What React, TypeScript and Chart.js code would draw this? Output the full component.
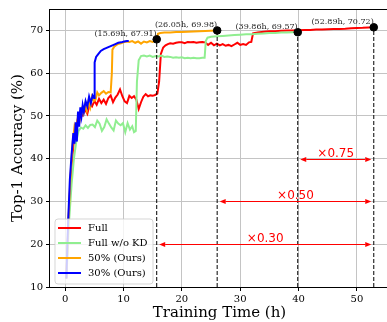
import React, { useEffect, useRef } from 'react';
import { Chart, registerables } from 'chart.js';

Chart.register(...registerables);

// ---- data (hours, top-1 accuracy %) ----
const fullTime = [0.2, 0.6, 1.0, 1.4, 1.8, 2.2, 2.6, 3.0, 3.4, 3.8, 4.2, 4.6, 5.0, 5.4, 5.8, 6.2, 6.6, 7.0, 7.4, 7.8, 8.2, 8.6, 9.0, 9.4, 9.8, 10.2, 10.6, 11.0, 11.4, 11.8, 12.2, 12.6, 13.0, 13.4, 13.8, 14.2, 14.6, 15.0, 15.4, 15.8, 16.1, 16.4, 16.8, 17.2, 17.6, 18.0, 18.5, 19.0, 19.5, 20.0, 20.5, 21.0, 21.5, 22.0, 22.5, 23.0, 23.5, 24.0, 24.5, 25.0, 25.5, 26.0, 26.5, 27.0, 27.5, 28.0, 28.5, 29.0, 29.5, 30.0, 30.5, 31.0, 31.5, 31.9, 32.2, 33.0, 34.0, 35.0, 36.0, 37.0, 38.0, 39.0, 40.0, 41.0, 42.0, 43.0, 44.0, 45.0, 46.0, 47.0, 48.0, 49.0, 50.0, 51.0, 52.0, 52.89];
const fullAcc = [12, 26, 37, 43, 47, 49.5, 51, 50.2, 51.5, 50.5, 52.8, 52.2, 53.5, 52.6, 54, 53, 53.8, 52.8, 54.2, 54.8, 53.2, 54.3, 55, 56.2, 54.6, 53.4, 53, 54.7, 54.2, 54.6, 53.8, 51.6, 53.2, 54.5, 55.1, 54.6, 54.8, 54.7, 54.9, 55.2, 58, 64.5, 66, 66.5, 66.8, 67, 66.9, 67.1, 67.2, 67.2, 67, 67.3, 67.2, 67.3, 67.1, 67.2, 67.3, 67.2, 66.6, 67.1, 66.5, 66.9, 66.5, 66.8, 66.4, 66.6, 66.3, 66.7, 67.1, 66.6, 66.8, 66.6, 67.2, 67.3, 69.3, 69.5, 69.7, 69.8, 69.8, 69.9, 70, 70, 70.05, 70.1, 70.1, 70.2, 70.2, 70.25, 70.3, 70.35, 70.4, 70.5, 70.55, 70.6, 70.7, 70.72];

const noKdTime = [0.2, 0.7, 1.1, 1.5, 1.9, 2.3, 2.7, 3.1, 3.5, 3.9, 4.3, 4.7, 5.1, 5.5, 5.9, 6.3, 6.7, 7.1, 7.5, 7.9, 8.3, 8.7, 9.1, 9.5, 9.9, 10.3, 10.7, 11.1, 11.5, 11.8, 12.1, 12.3, 12.6, 13.0, 13.5, 14.0, 14.5, 15.0, 15.5, 16.0, 16.5, 17.0, 17.5, 18.0, 18.5, 19.0, 19.5, 20.0, 20.5, 21.0, 21.5, 22.0, 22.5, 23.0, 23.5, 23.9, 24.1, 24.4, 25.0, 26.0, 27.0, 28.0, 29.0, 30.0, 31.0, 32.0, 33.0, 34.0, 35.0, 36.0, 37.0, 38.0, 39.0, 39.86];
const noKdAcc = [12, 26, 34, 40, 44, 46.5, 47.3, 47, 47.8, 47.2, 47.9, 48, 47.4, 48.9, 48.2, 46.5, 47.4, 49.2, 48.2, 47.3, 46.6, 48.9, 48.2, 47.8, 48.3, 46.2, 48.3, 46.8, 47.6, 46.2, 46.5, 58, 63, 64, 64.1, 63.9, 64.1, 63.8, 64, 63.9, 64.1, 63.8, 63.9, 63.8, 63.6, 63.7, 63.6, 63.7, 63.5, 63.6, 63.5, 63.6, 63.5, 63.5, 63.6, 63.6, 67.5, 68.3, 68.5, 68.6, 68.7, 68.8, 68.9, 69, 69.1, 69.1, 69.2, 69.3, 69.4, 69.4, 69.5, 69.5, 69.55, 69.57];

const half_Time = [0.2, 0.6, 1.0, 1.3, 1.6, 1.9, 2.2, 2.5, 2.8, 3.1, 3.4, 3.7, 4.0, 4.3, 4.6, 4.9, 5.2, 5.5, 5.8, 6.2, 6.6, 7.0, 7.4, 7.8, 8.0, 8.1, 8.4, 8.8, 9.2, 9.6, 10.0, 10.5, 11.0, 11.5, 12.0, 12.5, 13.0, 13.5, 14.0, 14.5, 15.0, 15.5, 15.69, 15.9, 16.3, 17.0, 18.0, 19.0, 20.0, 21.0, 22.0, 23.0, 24.0, 25.0, 26.05];
const half_Acc = [12, 27, 38, 44, 47.5, 46, 50, 49, 51.5, 50.5, 52.5, 51.2, 53.5, 52, 54.5, 53.5, 53.8, 55.5, 54.8, 55.4, 55.8, 55.2, 55.6, 55.5, 60, 65.5, 66.2, 66.6, 66.9, 67, 67.2, 67.4, 67.3, 67.5, 67.1, 67.4, 66.9, 67.4, 67.2, 67.5, 67.3, 67.6, 67.5, 69.2, 69.4, 69.5, 69.5, 69.6, 69.6, 69.7, 69.75, 69.8, 69.85, 69.9, 69.98];

const p30Time = [0.2, 0.5, 0.8, 1.1, 1.4, 1.6, 1.8, 2.0, 2.2, 2.4, 2.6, 2.8, 3.0, 3.2, 3.5, 3.8, 4.1, 4.4, 4.7, 4.95, 5.05, 5.3, 5.7, 6.1, 6.6, 7.1, 7.6, 8.1, 8.6, 9.1, 9.6, 10.1, 10.6, 10.9];
const p30Acc = [12, 25, 35, 41, 46, 43.5, 48.5, 44, 51, 47.5, 52, 50, 52.5, 51, 53.5, 52.2, 54.5, 53, 54.8, 54.2, 62.5, 63.8, 64.5, 65.2, 65.6, 65.9, 66.2, 66.5, 66.8, 67.1, 67.2, 67.4, 67.5, 67.5];

const seriesLabels = ['Full', 'Full w/o KD', '50% (Ours)', '30% (Ours)'];
const seriesColors = ['#ff0000', '#90ee90', '#ffa500', '#0000ff'];

const markerTime = [15.69, 26.05, 39.86, 52.89];
const markerAcc = [67.91, 69.98, 69.57, 70.72];
const markerText = ['(15.69h, 67.91)', '(26.05h, 69.98)', '(39.86h, 69.57)', '(52.89h, 70.72)'];

const speedupLabels = ['\u00d70.75', '\u00d70.50', '\u00d70.30'];
const speedupY = [40, 30, 20];
const speedupFrom = [39.86, 26.05, 15.69];
const speedupTo = [52.89, 52.89, 52.89];

const xTicks = [0, 10, 20, 30, 40, 50];
const yTicks = [10, 20, 30, 40, 50, 60, 70];

const toPts = (t: number[], v: number[]) => t.map((x, i) => ({ x, y: v[i] }));

const overlay = {
  id: 'overlay',
  afterDatasetsDraw(chart: any) {
    const { ctx, chartArea: a, scales } = chart;
    const x = scales.x;
    const y = scales.y;
    ctx.save();

    // marker annotations
    ctx.font = '8px "DejaVu Serif"';
    ctx.fillStyle = '#222222';
    ctx.textAlign = 'right';
    ctx.textBaseline = 'alphabetic';
    markerTime.forEach((t, i) => {
      ctx.fillText(markerText[i], x.getPixelForValue(t), y.getPixelForValue(markerAcc[i]) - 3.5);
    });

    // speed-up arrows
    ctx.strokeStyle = '#ff0000';
    ctx.fillStyle = '#ff0000';
    ctx.lineWidth = 1;
    speedupY.forEach((v, i) => {
      const yy = Math.round(y.getPixelForValue(v)) + 0.5;
      const x1 = x.getPixelForValue(speedupFrom[i]) + 2.5;
      const x2 = x.getPixelForValue(speedupTo[i]) - 2.5;
      const hl = 6, hw = 2.6;
      ctx.beginPath();
      ctx.moveTo(x1 + hl, yy);
      ctx.lineTo(x2 - hl, yy);
      ctx.stroke();
      ctx.beginPath();
      ctx.moveTo(x1, yy);
      ctx.lineTo(x1 + hl, yy - hw);
      ctx.lineTo(x1 + hl, yy + hw);
      ctx.closePath();
      ctx.fill();
      ctx.beginPath();
      ctx.moveTo(x2, yy);
      ctx.lineTo(x2 - hl, yy - hw);
      ctx.lineTo(x2 - hl, yy + hw);
      ctx.closePath();
      ctx.fill();
      ctx.font = '12px "DejaVu Sans"';
      ctx.textAlign = 'center';
      ctx.textBaseline = 'alphabetic';
      const mid = x.getPixelForValue((speedupFrom[i] + speedupTo[i]) / 2);
      ctx.fillText(speedupLabels[i], mid, yy - 2.5);
    });

    // axes frame
    ctx.strokeStyle = '#000000';
    ctx.lineWidth = 1;
    ctx.strokeRect(Math.round(a.left) - 0.5, Math.round(a.top) + 0.5, a.right - a.left, a.bottom - a.top);

    // legend
    const bx = a.left + 5;
    const by = a.bottom - 68;
    const bw = 98;
    const bh = 65;
    ctx.beginPath();
    const r = 3;
    ctx.moveTo(bx + r, by);
    ctx.lineTo(bx + bw - r, by);
    ctx.quadraticCurveTo(bx + bw, by, bx + bw, by + r);
    ctx.lineTo(bx + bw, by + bh - r);
    ctx.quadraticCurveTo(bx + bw, by + bh, bx + bw - r, by + bh);
    ctx.lineTo(bx + r, by + bh);
    ctx.quadraticCurveTo(bx, by + bh, bx, by + bh - r);
    ctx.lineTo(bx, by + r);
    ctx.quadraticCurveTo(bx, by, bx + r, by);
    ctx.closePath();
    ctx.fillStyle = 'rgba(255,255,255,0.8)';
    ctx.fill();
    ctx.strokeStyle = 'rgba(204,204,204,0.8)';
    ctx.stroke();
    ctx.font = '10px "DejaVu Serif"';
    ctx.textAlign = 'left';
    ctx.textBaseline = 'middle';
    seriesLabels.forEach((lab, i) => {
      const ry = by + 9 + i * 15;
      ctx.strokeStyle = seriesColors[i];
      ctx.lineWidth = 2;
      ctx.beginPath();
      ctx.moveTo(bx + 3, ry);
      ctx.lineTo(bx + 26, ry);
      ctx.stroke();
      ctx.fillStyle = '#000000';
      ctx.fillText(lab, bx + 33, ry + 0.5);
    });

    ctx.restore();
  },
};

export default function App() {
  const ref = useRef<HTMLCanvasElement | null>(null);

  useEffect(() => {
    if (!ref.current) return;
    Chart.defaults.font.family = '"DejaVu Serif"';
    Chart.defaults.color = '#000000';

    const seriesData = [
      toPts(fullTime, fullAcc),
      toPts(noKdTime, noKdAcc),
      toPts(half_Time, half_Acc),
      toPts(p30Time, p30Acc),
    ];

    const dots = {
      label: 'markers',
      type: 'scatter' as const,
      data: toPts(markerTime, markerAcc),
      pointRadius: 3.8,
      pointBackgroundColor: '#000000',
      pointBorderColor: '#000000',
      showLine: false,
    };

    const dashed = markerTime.map((t, i) => ({
      label: 'v' + i,
      data: [
        { x: t, y: 10 },
        { x: t, y: markerAcc[i] },
      ],
      borderColor: '#000000',
      borderWidth: 1,
      borderDash: [4, 2],
      pointRadius: 0,
      fill: false,
    }));

    // first dataset in the array is drawn on top in Chart.js
    const seriesSets = [3, 2, 1, 0].map((i) => ({
      label: seriesLabels[i],
      data: seriesData[i],
      borderColor: seriesColors[i],
      backgroundColor: seriesColors[i],
      borderWidth: 2,
      pointRadius: 0,
      tension: 0,
      fill: false,
    }));

    const chart = new Chart(ref.current, {
      type: 'line',
      data: { datasets: [dots as any, ...dashed, ...seriesSets] },
      options: {
        animation: false,
        responsive: false,
        parsing: false as any,
        layout: { padding: { top: 5, right: 11, left: 0, bottom: 0 } },
        plugins: { legend: { display: false }, tooltip: { enabled: false } },
        scales: {
          x: {
            type: 'linear',
            min: -2.6,
            max: 55.5,
            afterBuildTicks: (s: any) => {
              s.ticks = xTicks.map((v) => ({ value: v }));
            },
            afterFit: (s: any) => {
              s.height = 35;
            },
            grid: { color: '#c4c4c4', lineWidth: 1, drawTicks: true, tickLength: 4, tickColor: '#000000' },
            border: { display: false },
            ticks: { font: { size: 10, family: '"DejaVu Serif"' }, color: '#000000', padding: 2, maxRotation: 0 },
            title: {
              display: true,
              text: 'Training Time (h)',
              font: { size: 15, family: '"DejaVu Serif"' },
              color: '#000000',
              padding: { top: 0, bottom: 0 },
            },
          },
          y: {
            type: 'linear',
            min: 10,
            max: 75,
            afterBuildTicks: (s: any) => {
              s.ticks = yTicks.map((v) => ({ value: v }));
            },
            afterFit: (s: any) => {
              s.width = 50;
            },
            grid: { color: '#c4c4c4', lineWidth: 1, drawTicks: true, tickLength: 4, tickColor: '#000000' },
            border: { display: false },
            ticks: { font: { size: 10, family: '"DejaVu Serif"' }, color: '#000000', padding: 3 },
            title: {
              display: true,
              text: 'Top-1 Accuracy (%)',
              font: { size: 15, family: '"DejaVu Serif"' },
              color: '#000000',
              padding: { top: 9, bottom: 0 },
            },
          },
        },
      },
      plugins: [overlay],
    });

    return () => chart.destroy();
  }, []);

  return (
    <div style={{ position: 'fixed', left: 0, top: 0, width: 387, height: 322, overflow: 'hidden', background: '#ffffff' }}>
      <canvas ref={ref} width={400} height={322} style={{ display: 'block' }} />
    </div>
  );
}
